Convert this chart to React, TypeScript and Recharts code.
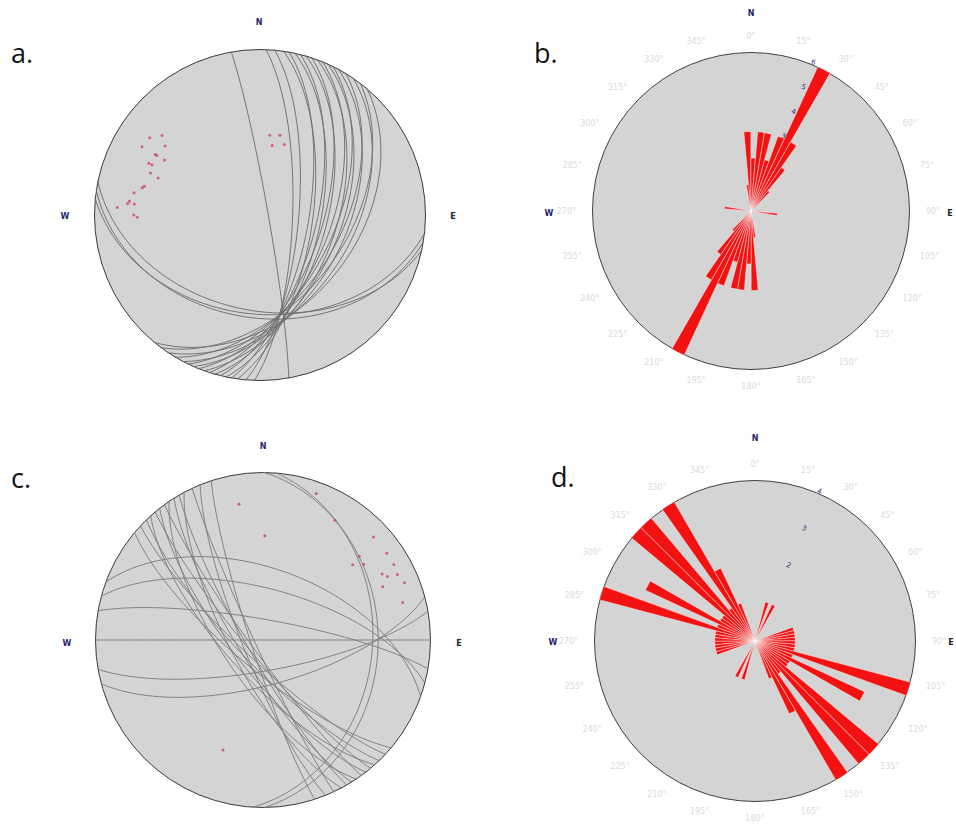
import React from 'react'
import {
  ScatterChart,
  Scatter,
  XAxis,
  YAxis,
  RadialBarChart,
  RadialBar,
  PolarAngleAxis,
  PolarRadiusAxis,
} from 'recharts'

// a. planes (strike, right-hand rule / dip) and poles (trend / plunge)
const A_STRIKE = [2, 5, 8, 10, 12, 14, 16, 18, 20, 22, 24, 26, 28, 31, 34, 37, 40, 350, 96, 99, 102]
const A_DIP = [74, 71, 64, 66, 60, 62, 57, 59, 52, 55, 50, 53, 47, 50, 44, 47, 42, 86, 40, 38, 42]
const A_POLE_TREND = [305, 309, 300, 306, 300, 300, 300, 295, 295, 291, 290, 284, 283, 280, 276, 275, 275, 273, 270, 269, 7, 14, 10, 19]
const A_POLE_PLUNGE = [20, 25, 19, 30, 28, 29, 34, 27, 29, 30, 35, 29, 28, 24, 22, 21, 25, 15, 25, 27, 50, 49, 55, 53]

// c. planes and poles
const C_STRIKE = [130, 133, 136, 138, 140, 142, 144, 146, 148, 150, 152, 155, 158, 162, 280, 290, 285, 90, 80, 75, 0, 4]
const C_DIP = [76, 80, 78, 72, 82, 75, 84, 70, 78, 82, 74, 86, 80, 84, 80, 55, 65, 90, 75, 68, 32, 35]
const C_POLE_TREND = [50, 49, 53, 55, 60, 61, 63, 68, 64, 66, 75, 47, 31, 20, 350, 1, 200]
const C_POLE_PLUNGE = [31, 25, 26, 11, 11, 20, 18, 10, 12, 23, 15, 11, 18, 8, 19, 38, 31]

// rose bins (5 deg, 0-175, plotted bidirectionally)
const BINS = [0, 5, 10, 15, 20, 25, 30, 35, 40, 45, 50, 55, 60, 65, 70, 75, 80, 85, 90, 95, 100, 105, 110, 115, 120, 125, 130, 135, 140, 145, 150, 155, 160, 165, 170, 175]
const ROSE_B = [3, 2, 3, 3, 2, 3, 6, 3, 2, 1, 0, 0, 0, 0, 0, 0, 0, 0, 0, 0, 1, 0, 0, 0, 0, 0, 0, 0, 0, 0, 0, 0, 0, 0, 0, 1]
const ROSE_D = [0, 0, 0, 0, 1, 0, 1, 0, 0, 0, 0, 0, 0, 0, 0, 1, 1, 1, 1, 1, 1, 1, 4, 1, 3, 1, 1, 4, 4, 1, 4, 2, 1, 0, 0, 0]

const rad = Math.PI / 180

// lower hemisphere equal-area
function project(trend: number, plunge: number) {
  const r = Math.SQRT2 * Math.sin(((90 - plunge) * rad) / 2)
  return { x: r * Math.sin(trend * rad), y: r * Math.cos(trend * rad) }
}

function greatCircle(strike: number, dip: number) {
  const s = strike * rad
  const d = dip * rad
  const pts: { x: number; y: number }[] = []
  for (let t = 0; t <= 180; t += 3) {
    const c = Math.cos(t * rad)
    const sn = Math.sin(t * rad)
    const e = c * Math.sin(s) + sn * Math.cos(d) * Math.cos(s)
    const n = c * Math.cos(s) - sn * Math.cos(d) * Math.sin(s)
    const dn = Math.max(0, Math.min(1, sn * Math.sin(d)))
    pts.push(project(Math.atan2(e, n) / rad, Math.asin(dn) / rad))
  }
  return pts
}

const noDot = () => <g />

function Stereonet(props: {
  left: number
  top: number
  size: number
  strikes: number[]
  dips: number[]
  poleTrend: number[]
  polePlunge: number[]
  lineColor: string
}) {
  const { left, top, size } = props
  const circles = props.strikes.map((s, i) => greatCircle(s, props.dips[i]))
  const poles = props.poleTrend.map((t, i) => project(t, props.polePlunge[i]))
  return (
    <div style={{ position: 'absolute', left, top, width: size, height: size }}>
      <div
        style={{
          position: 'absolute',
          inset: 0,
          borderRadius: '50%',
          background: '#d4d4d4',
          border: '1.5px solid #3a3a3a',
          boxSizing: 'border-box',
        }}
      />
      <div style={{ position: 'absolute', left: 0, top: 0 }}>
        <ScatterChart width={size} height={size} margin={{ top: 0, right: 0, bottom: 0, left: 0 }}>
          <XAxis type="number" dataKey="x" domain={[-1, 1]} hide allowDataOverflow />
          <YAxis type="number" dataKey="y" domain={[-1, 1]} hide allowDataOverflow />
          {circles.map((pts, i) => (
            <Scatter
              key={i}
              data={pts}
              fill={props.lineColor}
              line={{ stroke: props.lineColor, strokeWidth: 0.95 }}
              shape={noDot}
              isAnimationActive={false}
            />
          ))}
          <Scatter
            data={poles}
            fill="#cf3a62"
            shape={(p: any) => <circle cx={p.cx} cy={p.cy} r={1.5} fill="#cf3a62" fillOpacity={0.75} />}
            isAnimationActive={false}
          />
        </ScatterChart>
      </div>
    </div>
  )
}

function AngleTick(props: any) {
  const { x, y, payload, textAnchor } = props
  const deg = Number(payload.value)
  if (deg % 15 !== 0) return <g />
  return (
    <text x={x} y={y} textAnchor={textAnchor} dominantBaseline="central" fontSize={8} fill="#dadada">
      {deg}°
    </text>
  )
}

function Rose(props: {
  left: number
  top: number
  size: number
  radius: number
  counts: number[]
  max: number
  ticks: number[]
  tickAngle: number
}) {
  const { left, top, size, radius } = props
  const data = [
    ...BINS.map((deg, i) => ({ deg, n: props.counts[i] })),
    ...BINS.map((deg, i) => ({ deg: deg + 180, n: props.counts[i] })),
  ]
  return (
    <div style={{ position: 'absolute', left, top, width: size, height: size }}>
      <div
        style={{
          position: 'absolute',
          left: size / 2 - radius,
          top: size / 2 - radius,
          width: radius * 2,
          height: radius * 2,
          borderRadius: '50%',
          background: '#d4d4d4',
          border: '1.3px solid #404040',
          boxSizing: 'border-box',
        }}
      />
      <div style={{ position: 'absolute', left: 0, top: 0 }}>
        <RadialBarChart
          width={size}
          height={size}
          cx={size / 2}
          cy={size / 2}
          innerRadius={0}
          outerRadius={radius}
          startAngle={90}
          endAngle={-270}
          layout="centric"
          data={data}
          barCategoryGap="3%"
          margin={{ top: 0, right: 0, bottom: 0, left: 0 }}
        >
          <PolarAngleAxis type="category" dataKey="deg" axisLine={false} tickLine={false} tickSize={16} tick={AngleTick} />
          <PolarRadiusAxis
            type="number"
            domain={[0, props.max]}
            angle={props.tickAngle}
            ticks={props.ticks}
            axisLine={false}
            tickLine={false}
            tick={{ fontSize: 7, fill: '#2a2a7a' }}
          />
          <RadialBar dataKey="n" fill="#f31212" stroke="#ffffff" strokeWidth={0.6} strokeOpacity={0.7} isAnimationActive={false} />
        </RadialBarChart>
      </div>
    </div>
  )
}

const compass = { fontSize: 8, fontWeight: 700, fill: '#24246e', textAnchor: 'middle' as const, dominantBaseline: 'central' as const }
const panel = { fontSize: 27, fill: '#111111', fontFamily: '"Open Sans", sans-serif' }

export default function App() {
  return (
    <div
      style={{
        position: 'absolute',
        left: 0,
        top: 0,
        width: 956,
        height: 824,
        background: '#ffffff',
        overflow: 'hidden',
        fontFamily: '"DejaVu Sans", sans-serif',
      }}
    >
      <Stereonet
        left={93.5}
        top={48.5}
        size={332}
        strikes={A_STRIKE}
        dips={A_DIP}
        poleTrend={A_POLE_TREND}
        polePlunge={A_POLE_PLUNGE}
        lineColor="#6f6f6f"
      />
      <Rose left={551} top={11} size={400} radius={159} counts={ROSE_B} max={6} ticks={[3, 4, 5, 6]} tickAngle={68} />
      <Stereonet
        left={95}
        top={472}
        size={336}
        strikes={C_STRIKE}
        dips={C_DIP}
        poleTrend={C_POLE_TREND}
        polePlunge={C_POLE_PLUNGE}
        lineColor="#7d7d7d"
      />
      <Rose left={555} top={441} size={400} radius={161} counts={ROSE_D} max={4} ticks={[2, 3, 4]} tickAngle={67.5} />
      <svg width={956} height={824} style={{ position: 'absolute', left: 0, top: 0, pointerEvents: 'none' }}>
        <text x={11} y={63} {...panel}>a.</text>
        <text x={534} y={63} {...panel}>b.</text>
        <text x={11} y={488} {...panel}>c.</text>
        <text x={551} y={487} {...panel}>d.</text>

        <text x={259} y={22} {...compass}>N</text>
        <text x={65} y={216} {...compass}>W</text>
        <text x={453} y={216} {...compass} fill="#222">E</text>

        <text x={751} y={13} {...compass}>N</text>
        <text x={549} y={213} {...compass}>W</text>
        <text x={950} y={213} {...compass} fill="#222">E</text>

        <text x={263} y={446} {...compass}>N</text>
        <text x={67} y={643} {...compass}>W</text>
        <text x={459} y={643} {...compass} fill="#222">E</text>

        <text x={755} y={438} {...compass}>N</text>
        <text x={553} y={642} {...compass}>W</text>
        <text x={951} y={642} {...compass} fill="#222">E</text>
      </svg>
    </div>
  )
}
